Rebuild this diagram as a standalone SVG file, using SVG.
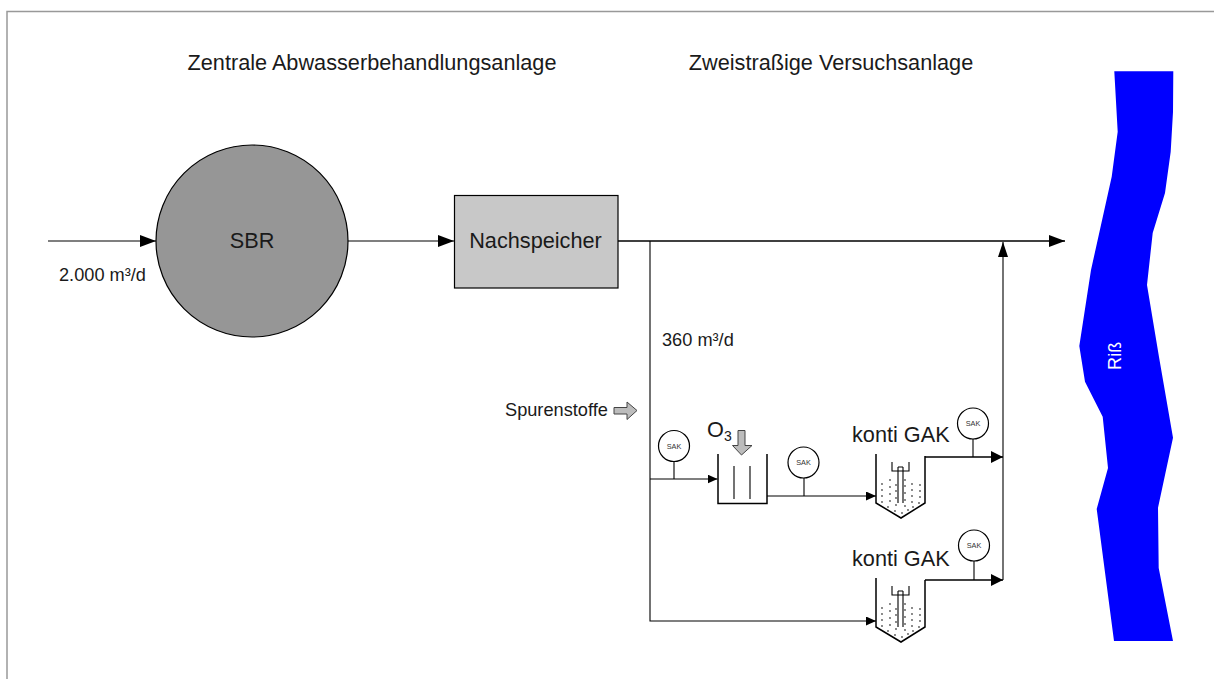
<svg xmlns="http://www.w3.org/2000/svg" xmlns:xlink="http://www.w3.org/1999/xlink" width="1214" height="679" viewBox="0 0 1214 679">
<style>
text{font-family:"Liberation Sans",Arial,sans-serif;fill:#1a1a1a}
.l{fill:none;stroke:#000;stroke-width:1.100}
.t{fill:none;stroke:#000;stroke-width:1.500}
.g{fill:#bcbcbc;stroke:#444;stroke-width:1}
.sak{fill:#fff;stroke:#000;stroke-width:1.200}
.s{font-size:7.300px;text-anchor:middle;fill:#333}
.m{font-size:18.200px}
.b{font-size:21.700px}
.d{fill:#555}
</style>
<defs>
<marker id="a" markerUnits="userSpaceOnUse" markerWidth="16" markerHeight="12" refX="16" refY="6" orient="auto"><path d="M0 0L16 6L0 12Z" fill="#000"/></marker>
<marker id="c" markerUnits="userSpaceOnUse" markerWidth="15" markerHeight="10" refX="15" refY="5" orient="auto"><path d="M0 0L15 5L0 10Z" fill="#000"/></marker>
<marker id="o" markerUnits="userSpaceOnUse" markerWidth="12" markerHeight="12" refX="12" refY="6" orient="auto"><path d="M0 0L12 6L0 12Z" fill="#000"/></marker>
<marker id="b" markerUnits="userSpaceOnUse" markerWidth="10" markerHeight="9" refX="10" refY="4.500" orient="auto"><path d="M0 0L10 4.500L0 9Z" fill="#000"/></marker>
<g id="gak">
<path class="t" d="M876 454V503L901 518L925 503V456"/>
<path class="l" d="M892 462V471H909V462M898 467V503M903 467V503M898 467H903"/>
<g class="d">
<circle cx="882" cy="484" r=".9"/><circle cx="890" cy="480" r=".9"/><circle cx="905" cy="480" r=".9"/><circle cx="912" cy="484" r=".9"/><circle cx="920" cy="485" r=".9"/>
<circle cx="882" cy="490" r=".9"/><circle cx="890" cy="487" r=".9"/><circle cx="896" cy="485" r=".9"/><circle cx="905" cy="486" r=".9"/><circle cx="912" cy="490" r=".9"/><circle cx="920" cy="491" r=".9"/>
<circle cx="882" cy="496" r=".9"/><circle cx="890" cy="494" r=".9"/><circle cx="896" cy="491" r=".9"/><circle cx="905" cy="493" r=".9"/><circle cx="912" cy="496" r=".9"/><circle cx="920" cy="497" r=".9"/>
<circle cx="882" cy="502" r=".9"/><circle cx="890" cy="501" r=".9"/><circle cx="896" cy="498" r=".9"/><circle cx="905" cy="500" r=".9"/><circle cx="912" cy="502" r=".9"/><circle cx="919" cy="503" r=".9"/>
<circle cx="888" cy="507" r=".9"/><circle cx="896" cy="505" r=".9"/><circle cx="905" cy="506" r=".9"/><circle cx="913" cy="507" r=".9"/>
<circle cx="895" cy="511" r=".9"/><circle cx="902" cy="513" r=".9"/><circle cx="908" cy="510" r=".9"/>
</g>
</g>
</defs>
<rect width="1214" height="679" fill="#fff"/>
<path d="M7 679V11.500H1214" fill="none" stroke="#999" stroke-width="1.500"/>
<g id="titles">
<text class="b" x="372" y="70" text-anchor="middle">Zentrale Abwasserbehandlungsanlage</text>
<text class="b" x="831" y="70" text-anchor="middle">Zweistraßige Versuchsanlage</text>
</g>
<g id="connectors">
<path class="l" d="M48 241H156" marker-end="url(#a)"/>
<path class="l" d="M348 241H454" marker-end="url(#a)"/>
<path class="t" d="M618 241H1065" marker-end="url(#a)"/>
<path class="l" d="M650 241V621H876" marker-end="url(#b)"/>
<path class="l" d="M650 479H717.500" marker-end="url(#b)"/>
<path class="l" d="M767 496H876" marker-end="url(#b)"/>
<path class="t" d="M925 457H1003" marker-end="url(#o)"/>
<path class="t" d="M925 580H1003" marker-end="url(#o)"/>
<path class="l" d="M1003 580V242" marker-end="url(#c)"/>
<path class="l" d="M674 461V479M804 478V496M973 439V457M974 561V580"/>
</g>
<g id="sbr"><circle cx="252" cy="241" r="96" fill="#969696" stroke="#000" stroke-width="1.200"/><text class="b" x="252" y="248" text-anchor="middle">SBR</text></g>
<g id="nachspeicher"><rect x="454.500" y="195.500" width="163.500" height="92.500" fill="#c8c8c8" stroke="#000" stroke-width="1.200"/><text class="b" x="535.500" y="248" text-anchor="middle">Nachspeicher</text></g>
<g id="inflow-label"><text class="m" x="59" y="281">2.000 m³/d</text></g>
<g id="branch-label"><text class="m" x="662" y="346">360 m³/d</text></g>
<g id="spurenstoffe"><text class="m" x="505" y="416">Spurenstoffe</text><path class="g" d="M614 407.500H627V402L637 410.500L627 419.500V414H614Z"/></g>
<g id="ozone">
<text class="b" x="707" y="437">O<tspan font-size="14" dy="4">3</tspan></text>
<path class="g" d="M738 430.500H745V445.500H752L741.500 455L732.500 445.500H738Z"/>
<path class="t" d="M718 454V503.500H767V454"/>
<path class="l" d="M734 466V499M750 466V499"/>
</g>
<g id="sak1"><circle class="sak" cx="674" cy="446" r="15.500"/><text class="s" x="674" y="448.500">SAK</text></g>
<g id="sak2"><circle class="sak" cx="803.500" cy="462.500" r="15.500"/><text class="s" x="803.500" y="465">SAK</text></g>
<g id="sak3"><circle class="sak" cx="973" cy="423.500" r="15.500"/><text class="s" x="973" y="426">SAK</text></g>
<g id="sak4"><circle class="sak" cx="974" cy="545.500" r="15.500"/><text class="s" x="974" y="548">SAK</text></g>
<g id="gak1"><use href="#gak" xlink:href="#gak"/><text class="b" x="852" y="442">konti GAK</text></g>
<g id="gak2"><use href="#gak" xlink:href="#gak" y="124"/><text class="b" x="852" y="566">konti GAK</text></g>
<g id="riss">
<path fill="#0000ff" d="M1114.300 71.300H1173.300L1173 112L1170.700 151.700L1165 193L1152.700 233L1147 285L1159 357L1173 437.700L1158 507.700L1158.700 568L1173 641H1114L1096.700 509L1108 468L1102.700 416.700L1085 381.700L1079.300 346L1091 270L1111.700 176.700L1117.700 131.700Z"/>
<text class="m" transform="translate(1120.500 370) rotate(-90)" style="fill:#fff">Riß</text>
</g>
</svg>
